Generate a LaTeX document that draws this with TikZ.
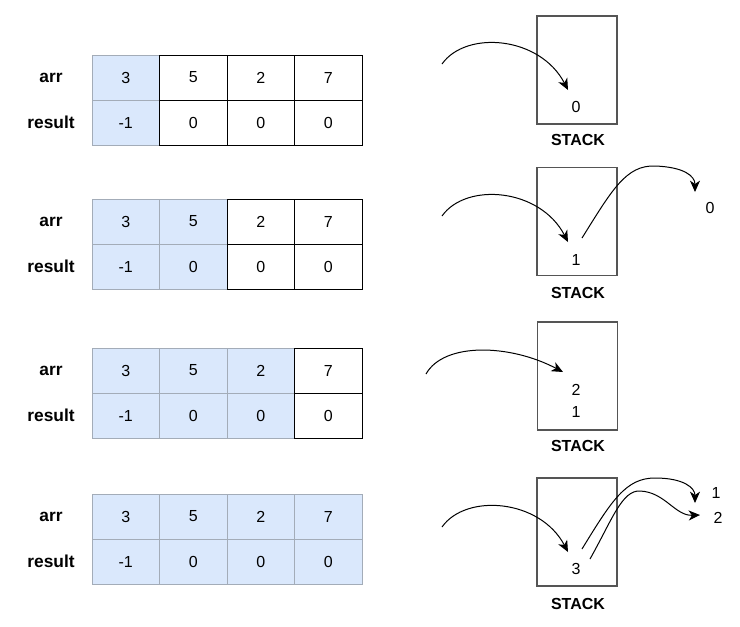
\documentclass[tikz,border=0pt]{standalone}
\usepackage{fontspec}
\setmainfont{Liberation Sans}
\usetikzlibrary{arrows.meta}
\definecolor{cellfill}{HTML}{DAE8FC}
\definecolor{cellline}{HTML}{A3ACB8}
\definecolor{boxline}{HTML}{555555}
\tikzset{
  cellbase/.style={minimum width=50.625pt,minimum height=33.75pt,inner sep=0pt,font=\fontsize{12}{14}\selectfont,line width=0.75pt},
  shadedcell/.style={cellbase,fill=cellfill,draw=cellline},
  whitecell/.style={cellbase,fill=white,draw=black},
  rowlbl/.style={font=\bfseries\fontsize{13}{15}\selectfont,inner sep=0pt},
  stackbox/.style={draw=boxline,line width=0.8pt,minimum width=60pt,minimum height=81pt,inner sep=0pt},
  stacklbl/.style={font=\bfseries\fontsize{12}{14}\selectfont,inner sep=0pt},
  val/.style={font=\fontsize{12}{14}\selectfont,inner sep=0pt},
  flow/.style={line width=0.75pt,-{Stealth[length=8.5pt,width=7.5pt,inset=2.5pt]}}
}
\newcommand\mytable[3]{%
  \pgfmathsetmacro\ya{#2+22.5}
  \pgfmathsetmacro\yr{#2+67.5}
  \node[rowlbl] (#1arr) at (51,\ya) {arr};
  \node[rowlbl] (#1res) at (51,\yr) {result};
  \foreach \a/\r [count=\i] in {3/-1,5/0,2/0,7/0} {
    \ifnum\i>#3\relax\else
      \pgfmathsetmacro\cx{92+67.5*(\i-0.5)}
      \node[shadedcell] (#1a\i) at (\cx,\ya) {\a};
      \node[shadedcell] (#1r\i) at (\cx,\yr) {\r};
    \fi
  }
  \foreach \a/\r [count=\i] in {3/-1,5/0,2/0,7/0} {
    \ifnum\i>#3\relax
      \pgfmathsetmacro\cx{92+67.5*(\i-0.5)}
      \node[whitecell] (#1a\i) at (\cx,\ya) {\a};
      \node[whitecell] (#1r\i) at (\cx,\yr) {\r};
    \fi
  }
}
\begin{document}
\begin{tikzpicture}[x=0.75pt,y=-0.75pt]
\useasboundingbox (0,0) rectangle (740,626);
% tables
\mytable{ta}{55}{1}
\mytable{tb}{199}{2}
\mytable{tc}{348}{3}
\mytable{td}{494}{4}
% stack 1
\node[stackbox] (box1) at (577,70) {};
\node[stacklbl] (lbl1) at (578,140) {STACK};
\node[val] (v10) at (576,107) {0};
\coordinate (s1) at (442,64);
\coordinate (e1) at (568,90);
\draw[flow] (s1) .. controls (466,30) and (540,36) .. (e1);
% stack 2
\node[stackbox] (box2) at (577,221.5) {};
\node[stacklbl] (lbl2) at (578,293) {STACK};
\node[val] (v21) at (576,260) {1};
\node[val] (v20) at (710,208) {0};
\coordinate (s2) at (442,216);
\coordinate (e2) at (568,242);
\draw[flow] (s2) .. controls (466,182) and (540,188) .. (e2);
\coordinate (o2s) at (582,238);
\coordinate (o2e) at (695,192);
\draw[flow] (o2s) .. controls (612,190) and (626,165) .. (655,166) .. controls (684,167) and (695,176) .. (o2e);
% stack 3
\node[stackbox] (box3) at (577.5,376) {};
\node[stacklbl] (lbl3) at (578,446) {STACK};
\node[val] (v32) at (576,390) {2};
\node[val] (v31) at (576,412) {1};
\coordinate (s3) at (426,374);
\coordinate (e3) at (563,372);
\draw[flow] (s3) .. controls (444,342) and (510,344) .. (e3);
% stack 4
\node[stackbox] (box4) at (577,532) {};
\node[stacklbl] (lbl4) at (578,604) {STACK};
\node[val] (v43) at (576,569) {3};
\node[val] (v41) at (716,493) {1};
\node[val] (v42) at (718,518) {2};
\coordinate (s4) at (442,527);
\coordinate (e4) at (568,552);
\draw[flow] (s4) .. controls (466,493) and (540,499) .. (e4);
\coordinate (o4as) at (582,549);
\coordinate (o4ae) at (695,503);
\draw[flow] (o4as) .. controls (612,500) and (626,478) .. (655,478) .. controls (684,478) and (695,488) .. (o4ae);
\coordinate (o4bs) at (590,559);
\coordinate (o4be) at (700,515);
\draw[flow] (o4bs) .. controls (612,520) and (622,490) .. (640,491) .. controls (665,492) and (675,516) .. (o4be);
\end{tikzpicture}
\end{document}
